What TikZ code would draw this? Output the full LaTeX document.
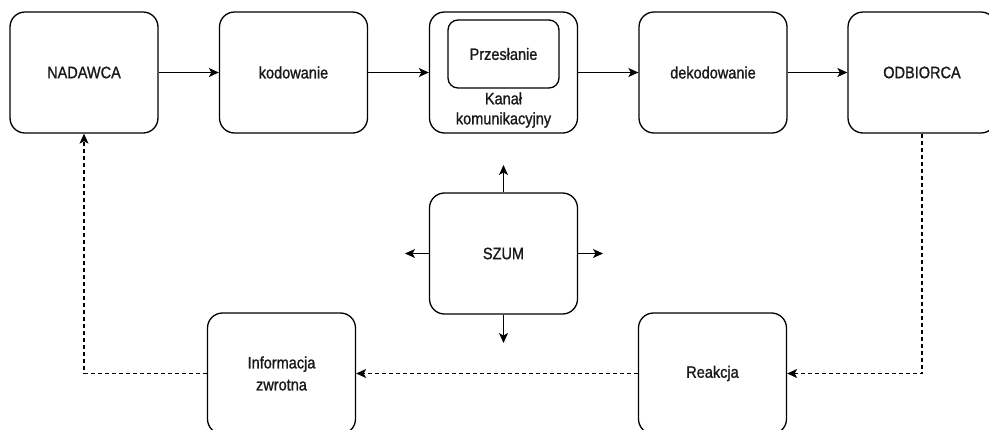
\documentclass[tikz,border=0pt]{standalone}
\usepackage{fontspec}
\setmainfont{Liberation Sans}
\newfontfamily\lbfont{Liberation Sans}[FakeBold=1.2, FakeStretch=0.88]
\usetikzlibrary{arrows.meta}
\definecolor{txt}{HTML}{1A1A1A}
\tikzset{
  box/.style={draw=black, line width=1.3pt, rounded corners=15pt, minimum width=148pt, minimum height=121pt, inner sep=0pt, fill=white, text=txt, align=center, font=\lbfont\fontsize{16.5}{22}\selectfont},
  innerbox/.style={draw=black, line width=1.3pt, rounded corners=10pt, minimum width=111pt, minimum height=68pt, inner sep=0pt, text=txt, font=\lbfont\fontsize{16.5}{22}\selectfont},
  lbl/.style={text=txt, align=center, font=\lbfont\fontsize{16.5}{20}\selectfont, inner sep=0pt},
  flow/.style={draw=black, line width=1.3pt, -{Stealth[length=10pt, width=9pt, inset=2.5pt]}},
  fb/.style={flow, dash pattern=on 4pt off 3pt, line width=1.1pt}
}
\begin{document}
\begin{tikzpicture}[x=1pt, y=-1pt]
\useasboundingbox (0,0) rectangle (989,429);
\clip (0,0) rectangle (989,429);
\node[box] (nad) at (84,72.5) {NADAWCA};
\node[box] (kod) at (293.5,72.5) {kodowanie};
\node[box] (kan) at (503.5,72.5) {};
\node[innerbox] (prz) at (503.5,54) {Przesłanie};
\node[lbl] (kanl) at (503.5,110) {Kanał\\komunikacyjny};
\node[box] (dek) at (713,72.5) {dekodowanie};
\node[box] (odb) at (922,72.5) {ODBIORCA};
\node[box] (szum) at (503.5,253.5) {SZUM};
\node[box] (info) at (281.5,373.5) {Informacja\\zwrotna};
\node[box] (reak) at (712.5,373.5) {Reakcja};
\coordinate (sN) at (503.5,165);
\coordinate (sS) at (503.5,343);
\coordinate (sW) at (405,253.5);
\coordinate (sE) at (603,253.5);
\draw[flow] (nad.east) -- (kod.west);
\draw[flow] (kod.east) -- (kan.west);
\draw[flow] (kan.east) -- (dek.west);
\draw[flow] (dek.east) -- (odb.west);
\draw[flow] (szum.north) -- (sN);
\draw[flow] (szum.south) -- (sS);
\draw[flow] (szum.west) -- (sW);
\draw[flow] (szum.east) -- (sE);
\draw[fb] (odb.south) |- (reak.east);
\draw[fb] (reak.west) -- (info.east);
\draw[fb] (info.west) -| (nad.south);
\end{tikzpicture}
\end{document}
